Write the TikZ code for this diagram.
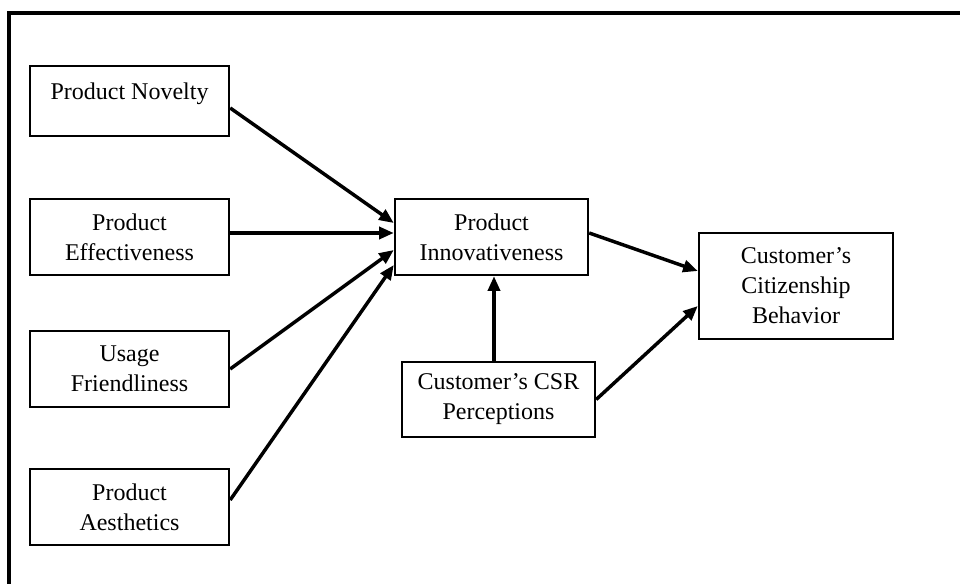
\documentclass[tikz,border=0pt]{standalone}
\usepackage{fontspec}
\setmainfont{Liberation Serif}
\usetikzlibrary{arrows.meta,calc}
\begin{document}
\begin{tikzpicture}[x=0.75pt,y=-0.75pt,
  box/.style={draw,line width=1.8pt,minimum width=199*0.75pt,align=center,inner sep=0pt,font=\fontsize{18}{22.5}\selectfont},
  conn/.style={line width=2.6pt,-{Triangle[length=11pt,width=9pt]}},
  frame/.style={line width=3pt}]
\useasboundingbox (0,0) rectangle (960,584);
\coordinate (fbl) at (9,590);
\coordinate (ftl) at (9,13);
\coordinate (ftr) at (965,13);
\draw[frame] (fbl) -- (ftl) -- (ftr);

\node[box,minimum height=70*0.75pt,text depth=0pt] (nov) at (129.5,101) {\raisebox{14pt}{Product Novelty}};
\node[box,minimum height=76*0.75pt] (eff) at (129.5,237) {Product\\Effectiveness};
\node[box,minimum height=76*0.75pt] (use) at (129.5,369) {Usage\\Friendliness};
\node[box,minimum height=76*0.75pt] (aes) at (129.5,507) {Product\\Aesthetics};
\node[box,minimum width=193*0.75pt,minimum height=76*0.75pt] (inn) at (491.5,237) {Product\\Innovativeness};
\node[box,minimum width=193*0.75pt,minimum height=75*0.75pt] (csr) at (498.5,399.5) {Customer’s CSR\\Perceptions};
\node[box,minimum width=194*0.75pt,minimum height=106*0.75pt] (cit) at (796,286) {Customer’s\\Citizenship\\Behavior};

\draw[conn] ($(nov.east)+(0,7)$) -- ($(inn.west)+(0,-14)$);
\draw[conn] ($(eff.east)+(0,-4)$) -- ($(inn.west)+(0,-4)$);
\draw[conn] (use.east) -- ($(inn.west)+(0,13)$);
\draw[conn] ($(aes.east)+(0,-7)$) -- ($(inn.west)+(0,28)$);
\draw[conn] ($(inn.east)+(0,-4)$) -- ($(cit.west)+(0,-15)$);
\draw[conn] ($(csr.north)+(-4.5,0)$) -- ($(inn.south)+(2.5,0)$);
\draw[conn] (csr.east) -- ($(cit.west)+(0,20)$);
\end{tikzpicture}
\end{document}
